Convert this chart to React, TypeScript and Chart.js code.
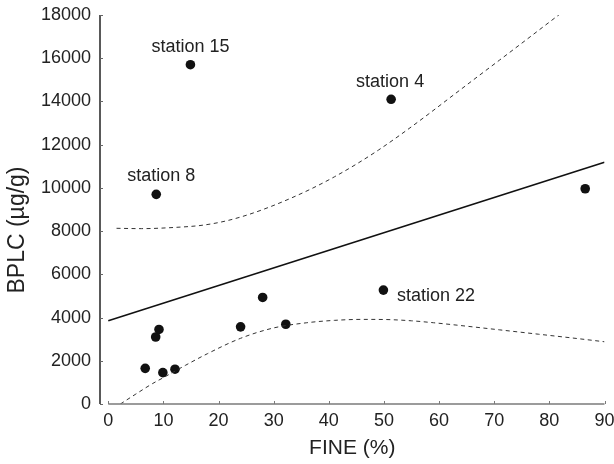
import { useEffect, useRef } from "react";
import { Chart, registerables } from "chart.js";

Chart.register(...registerables);

const FONT = "'Liberation Sans', Arial, Helvetica, sans-serif";

// Scatter data (FINE %, BPLC µg/g)
const fineValues = [14.9, 8.7, 51.3, 86.5, 49.9, 6.7, 8.6, 9.2, 9.9, 12.1, 24.0, 28.0, 32.2];
const bplcValues = [15700, 9700, 14100, 9960, 5270, 1650, 3100, 3450, 1450, 1610, 3570, 4930, 3690];

// Regression line
const regX = [0, 90];
const regY = [3850, 11190];

// Upper dashed band
const upperX = [1.5, 6, 12, 17, 21, 25, 29, 33, 37, 41, 45, 49, 53, 58, 62, 67, 71, 76, 82, 90];
const upperY = [8130, 8115, 8170, 8270, 8450, 8730, 9090, 9510, 9980, 10510, 11100, 11750, 12460, 13400, 14180, 15150, 15920, 16890, 18060, 19610];

// Lower dashed band
const lowerX = [2.2, 5, 8, 10, 14, 18, 24, 30, 36, 41, 46, 50, 55, 59, 65, 71, 78, 84, 90];
const lowerY = [0, 460, 940, 1220, 1790, 2330, 3040, 3520, 3760, 3870, 3915, 3910, 3850, 3760, 3600, 3430, 3230, 3060, 2880];

// Station annotations
const stationNames = ["station 15", "station 8", "station 4", "station 22"];
const stationX = [14.9, 8.7, 51.3, 49.9];
const stationY = [15700, 9700, 14100, 5270];

// Tick values
const xTicks = [0, 10, 20, 30, 40, 50, 60, 70, 80, 90];
const yTicks = [0, 2000, 4000, 6000, 8000, 10000, 12000, 14000, 16000, 18000];

const xTitle = "FINE (%)";
const yTitle = "BPLC (µg/g)";

const toPts = (xs: number[], ys: number[]) => xs.map((x, i) => ({ x, y: ys[i] }));

const axesPlugin = {
  id: "customAxes",
  afterDraw(chart: any) {
    const { ctx, chartArea, scales } = chart;
    const xs = scales.x;
    const ys = scales.y;
    ctx.save();
    // y axis line
    ctx.strokeStyle = "#222";
    ctx.lineWidth = 1.5;
    ctx.beginPath();
    ctx.moveTo(chartArea.left, ys.getPixelForValue(yTicks[yTicks.length - 1]));
    ctx.lineTo(chartArea.left, ys.getPixelForValue(yTicks[0]));
    ctx.stroke();
    // y ticks (inward)
    ctx.strokeStyle = "#666";
    ctx.lineWidth = 1;
    for (const v of yTicks) {
      const py = Math.round(ys.getPixelForValue(v)) + 0.5;
      ctx.beginPath();
      ctx.moveTo(chartArea.left, py);
      ctx.lineTo(chartArea.left + 3, py);
      ctx.stroke();
    }
    // x axis line
    const by = ys.getPixelForValue(0);
    ctx.strokeStyle = "#7a7a7a";
    ctx.lineWidth = 1.5;
    ctx.beginPath();
    ctx.moveTo(xs.getPixelForValue(xTicks[0]), by);
    ctx.lineTo(xs.getPixelForValue(xTicks[xTicks.length - 1]), by);
    ctx.stroke();
    // x ticks (upward)
    ctx.lineWidth = 1;
    for (const v of xTicks) {
      const px = Math.round(xs.getPixelForValue(v)) + 0.5;
      ctx.beginPath();
      ctx.moveTo(px, by);
      ctx.lineTo(px, by - 3);
      ctx.stroke();
    }
    // y title
    ctx.fillStyle = "#222";
    ctx.font = `23px ${FONT}`;
    ctx.textAlign = "center";
    ctx.textBaseline = "middle";
    ctx.translate(18, 230);
    ctx.rotate(-Math.PI / 2);
    ctx.fillText(yTitle, 0, 0);
    ctx.restore();
  },
};

const labelOffsets = [
  { dx: 0, dy: -18, align: "center" },
  { dx: 5, dy: -18.5, align: "center" },
  { dx: -1, dy: -17.5, align: "center" },
  { dx: 13.5, dy: 5.5, align: "left" },
];

const labelsPlugin = {
  id: "stationLabels",
  afterDatasetsDraw(chart: any) {
    const { ctx, scales } = chart;
    ctx.save();
    ctx.fillStyle = "#222";
    ctx.font = `18px ${FONT}`;
    ctx.textBaseline = "middle";
    stationNames.forEach((name, i) => {
      const px = scales.x.getPixelForValue(stationX[i]);
      const py = scales.y.getPixelForValue(stationY[i]);
      const o = labelOffsets[i];
      ctx.textAlign = o.align;
      ctx.fillText(name, px + o.dx, py + o.dy);
    });
    ctx.restore();
  },
};

export default function App() {
  const ref = useRef<HTMLCanvasElement>(null);
  useEffect(() => {
    const chart = new Chart(ref.current!, {
      type: "scatter",
      data: {
        datasets: [
          {
            label: "upper",
            data: toPts(upperX, upperY),
            showLine: true,
            borderColor: "#333",
            borderWidth: 1,
            borderDash: [4, 3.5],
            pointRadius: 0,
            cubicInterpolationMode: "monotone",
          },
          {
            label: "lower",
            data: toPts(lowerX, lowerY),
            showLine: true,
            borderColor: "#333",
            borderWidth: 1,
            borderDash: [4, 3.5],
            pointRadius: 0,
            cubicInterpolationMode: "monotone",
          },
          {
            label: "regression",
            data: toPts(regX, regY),
            showLine: true,
            borderColor: "#111",
            borderWidth: 1.6,
            pointRadius: 0,
          },
          {
            label: "stations",
            data: toPts(fineValues, bplcValues),
            showLine: false,
            pointRadius: 4.8,
            pointBackgroundColor: "#111",
            pointBorderColor: "#111",
            pointBorderWidth: 0,
          },
        ] as any,
      },
      options: {
        responsive: false,
        animation: false,
        layout: { padding: { top: 15, right: 9.5, bottom: 0, left: 0 } },
        plugins: {
          legend: { display: false },
          tooltip: { enabled: false },
        },
        scales: {
          x: {
            type: "linear",
            min: -1.5,
            max: 90,
            afterBuildTicks: (s: any) => {
              s.ticks = xTicks.map((v) => ({ value: v }));
            },
            afterFit: (s: any) => {
              s.height = 60;
              s.paddingLeft = 0;
              s.paddingRight = 0;
            },
            grid: { display: false, drawTicks: false },
            border: { display: false },
            ticks: {
              color: "#222",
              font: { family: FONT, size: 18 },
              padding: 6,
              maxRotation: 0,
              callback: (v: any) => String(v),
            },
            title: {
              display: true,
              text: xTitle,
              color: "#222",
              font: { family: FONT, size: 21 },
              padding: { top: 0, bottom: 3 },
            },
          },
          y: {
            type: "linear",
            min: 0,
            max: 18000,
            afterBuildTicks: (s: any) => {
              s.ticks = yTicks.map((v) => ({ value: v }));
            },
            afterFit: (s: any) => {
              s.width = 100;
              s.paddingTop = 0;
              s.paddingBottom = 0;
            },
            grid: { display: false, drawTicks: false },
            border: { display: false },
            ticks: {
              color: "#222",
              font: { family: FONT, size: 18 },
              padding: 9,
              callback: (v: any) => String(v),
            },
          },
        },
      },
      plugins: [axesPlugin, labelsPlugin],
    } as any);
    return () => chart.destroy();
  }, []);
  return (
    <div style={{ position: "fixed", left: 0, top: 0, width: 614, height: 464, background: "#fff" }}>
      <canvas ref={ref} width={614} height={464} style={{ display: "block" }} />
    </div>
  );
}
